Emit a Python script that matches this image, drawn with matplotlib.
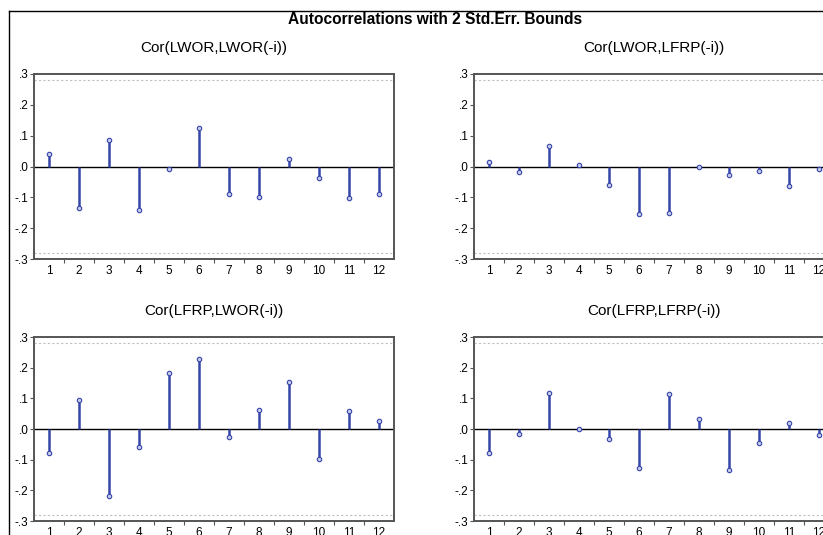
import numpy as np
import matplotlib
matplotlib.use("Agg")
from matplotlib import pyplot as plt
from matplotlib.lines import Line2D

plt.rcParams['font.family'] = ['Liberation Sans', 'DejaVu Sans']

lags = list(range(1, 13))
bound = 0.2805

titles = ["Cor(LWOR,LWOR(-i))", "Cor(LWOR,LFRP(-i))",
          "Cor(LFRP,LWOR(-i))", "Cor(LFRP,LFRP(-i))"]

lwor_lwor = [0.039, -0.136, 0.087, -0.141, -0.007, 0.124, -0.090, -0.100, 0.024, -0.037, -0.102, -0.089]
lwor_lfrp = [0.015, -0.018, 0.068, 0.005, -0.060, -0.154, -0.152, -0.003, -0.026, -0.016, -0.062, -0.009]
lfrp_lwor = [-0.077, 0.095, -0.217, -0.059, 0.183, 0.229, -0.027, 0.061, 0.153, -0.099, 0.060, 0.026]
lfrp_lfrp = [-0.078, -0.016, 0.118, 0.001, -0.033, -0.127, 0.114, 0.033, -0.133, -0.046, 0.018, -0.018]

series = [lwor_lwor, lwor_lfrp, lfrp_lwor, lfrp_lfrp]

yticks = [0.3, 0.2, 0.1, 0.0, -0.1, -0.2, -0.3]
ytick_labels = [".3", ".2", ".1", ".0", "-.1", "-.2", "-.3"]

W, H = 823, 535
fig = plt.figure(figsize=(W / 100, H / 100), dpi=100)

# axes boxes in pixels: left, top, width, height
boxes = [(34, 74, 360, 185), (474, 74, 360, 185),
         (34, 337, 360, 184), (474, 337, 360, 184)]

stem_color = "#3545a8"

for (l, t, w, h), vals, title in zip(boxes, series, titles):
    ax = fig.add_axes([l / W, 1 - (t + h) / H, w / W, h / H])
    ax.set_xlim(0.5, 12.5)
    ax.set_ylim(-0.3, 0.3)
    ax.vlines(lags, 0, vals, color=stem_color, lw=1.8, zorder=3)
    ax.plot(lags, vals, 'o', ms=3.2, mfc="#c8ccee", mec=stem_color, mew=0.8, zorder=4)
    ax.axhline(0, color="black", lw=1.0, zorder=2)
    for b in (bound, -bound):
        ax.axhline(b, color="#c0c0c0", lw=0.8, ls=(0, (2, 2)), zorder=1)
    ax.set_yticks(yticks)
    ax.set_yticklabels(ytick_labels, fontsize=8.5)
    ax.set_xticks(np.arange(1.5, 12.5, 1.0))
    ax.set_xticklabels([])
    ax.set_xticks(lags, minor=True)
    ax.set_xticklabels([str(i) for i in lags], minor=True, fontsize=8.5)
    ax.tick_params(axis='x', which='major', direction='out', length=3, width=0.8, color="#555555")
    ax.tick_params(axis='x', which='minor', length=0, pad=4)
    ax.tick_params(axis='y', direction='out', length=3, width=0.8, color="#555555", pad=1)
    for sp in ax.spines.values():
        sp.set_color("#555555")
        sp.set_linewidth(1.4)
    ax.text(0.5, 1 + 26 / h, title, transform=ax.transAxes, ha='center', va='center', fontsize=11)

fig.text(435 / W, 1 - 19 / H, "Autocorrelations with 2 Std.Err. Bounds",
         ha='center', va='center', fontsize=11.2, weight='bold')

# outer frame
fig.add_artist(Line2D([9 / W, 1.0], [1 - 11 / H, 1 - 11 / H], color="black", lw=1.0, transform=fig.transFigure))
fig.add_artist(Line2D([9 / W, 9 / W], [0, 1 - 11 / H], color="black", lw=1.0, transform=fig.transFigure))

fig.savefig("out.png", dpi=100)
